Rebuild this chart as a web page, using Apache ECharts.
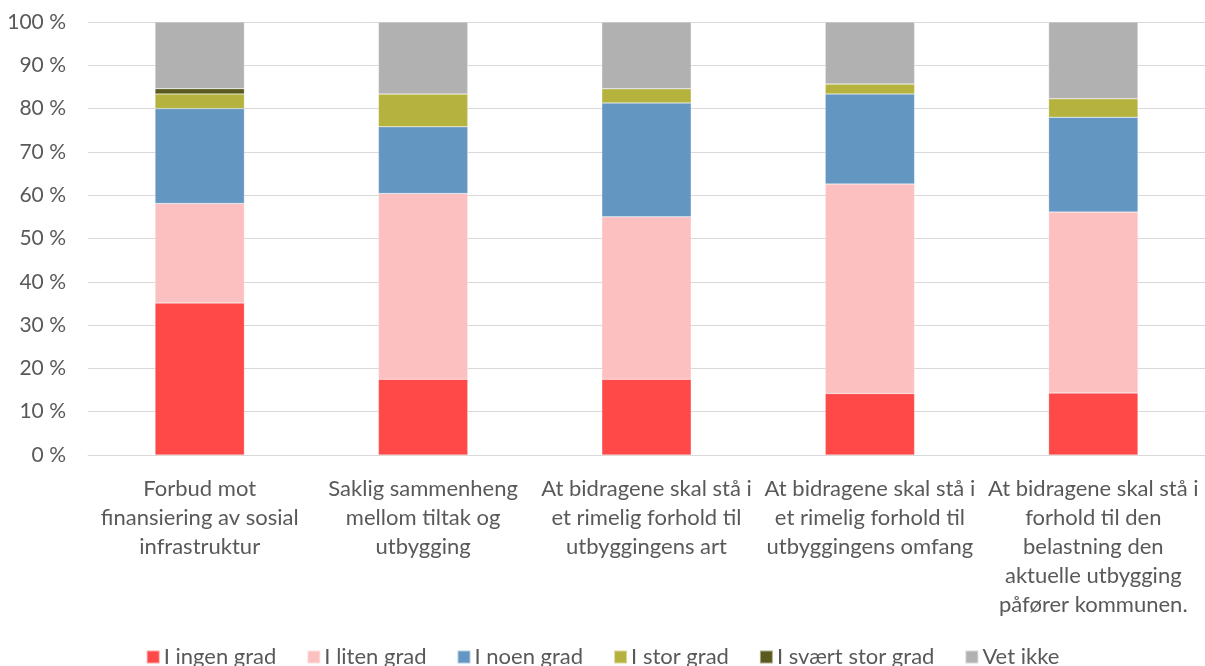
<!DOCTYPE html>
<html>
<head>
<meta charset="utf-8">
<script src="https://cdn.jsdelivr.net/npm/echarts@6/dist/echarts.min.js"></script>
<style>
  html, body { margin: 0; padding: 0; background: #ffffff; }
  #chart { width: 1205px; height: 666px; }
</style>
</head>
<body>
<div id="chart"></div>
<script>
// Category tick labels (pre-wrapped)
const categories = [
  'Forbud mot\nfinansiering av sosial\ninfrastruktur',
  'Saklig sammenheng\nmellom tiltak og\nutbygging',
  'At bidragene skal stå i\net rimelig forhold til\nutbyggingens art',
  'At bidragene skal stå i\net rimelig forhold til\nutbyggingens omfang',
  'At bidragene skal stå i\nforhold til den\nbelastning den\naktuelle utbygging\npåfører kommunen.'
];

// Share of answers per category (percent)
const iIngenGrad      = [35.1, 17.5, 17.5, 14.2, 14.3];
const iLitenGrad      = [23.0, 42.9, 37.5, 48.4, 41.8];
const iNoenGrad       = [21.9, 15.4, 26.3, 20.8, 21.9];
const iStorGrad       = [3.4, 7.6, 3.3, 2.3, 4.3];
const iSvaertStorGrad = [1.2, 0, 0, 0, 0];
const vetIkke         = [15.4, 16.6, 15.4, 14.3, 17.7];

const seriesNames = ['I ingen grad', 'I liten grad', 'I noen grad', 'I stor grad', 'I svært stor grad', 'Vet ikke'];
const seriesData = [iIngenGrad, iLitenGrad, iNoenGrad, iStorGrad, iSvaertStorGrad, vetIkke];
const seriesColors = ['#FF4848', '#FDC0C0', '#6396C1', '#B5B23E', '#5A5A1E', '#B1B1B1'];

const FONT = 'Lato';
const TEXT = '#595959';

const chart = echarts.init(document.getElementById('chart'), null, { renderer: 'canvas' });

chart.setOption({
  animation: false,
  backgroundColor: '#ffffff',
  textStyle: { fontFamily: FONT },
  grid: { left: 88, right: 0, top: 22, bottom: 211, containLabel: false },
  legend: {
    top: 641,
    left: 'center',
    itemWidth: 13,
    itemHeight: 13,
    itemGap: 30,
    icon: 'rect',
    textStyle: { fontFamily: FONT, fontSize: 22, color: TEXT, padding: [0, 0, 0, -1] },
    data: seriesNames
  },
  xAxis: {
    type: 'category',
    data: categories,
    axisLine: { show: true, lineStyle: { color: '#D9D9D9', width: 1 } },
    axisTick: { show: false },
    axisLabel: {
      interval: 0,
      margin: 19,
      fontFamily: FONT,
      fontSize: 22,
      lineHeight: 29,
      color: TEXT,
      align: 'center'
    }
  },
  yAxis: {
    type: 'value',
    min: 0,
    max: 100,
    interval: 10,
    axisLine: { show: false },
    axisTick: { show: false },
    splitLine: { lineStyle: { color: '#D9D9D9', width: 1 } },
    axisLabel: {
      margin: 22,
      fontFamily: FONT,
      fontSize: 21,
      color: TEXT,
      formatter: v => v + ' %'
    }
  },
  series: seriesNames.map((name, i) => ({
    name,
    type: 'bar',
    stack: 'total',
    barWidth: '40%',
    data: seriesData[i],
    itemStyle: { color: seriesColors[i], borderColor: 'rgba(255,255,255,0.5)', borderWidth: 0.5 }
  }))
});
</script>
</body>
</html>
